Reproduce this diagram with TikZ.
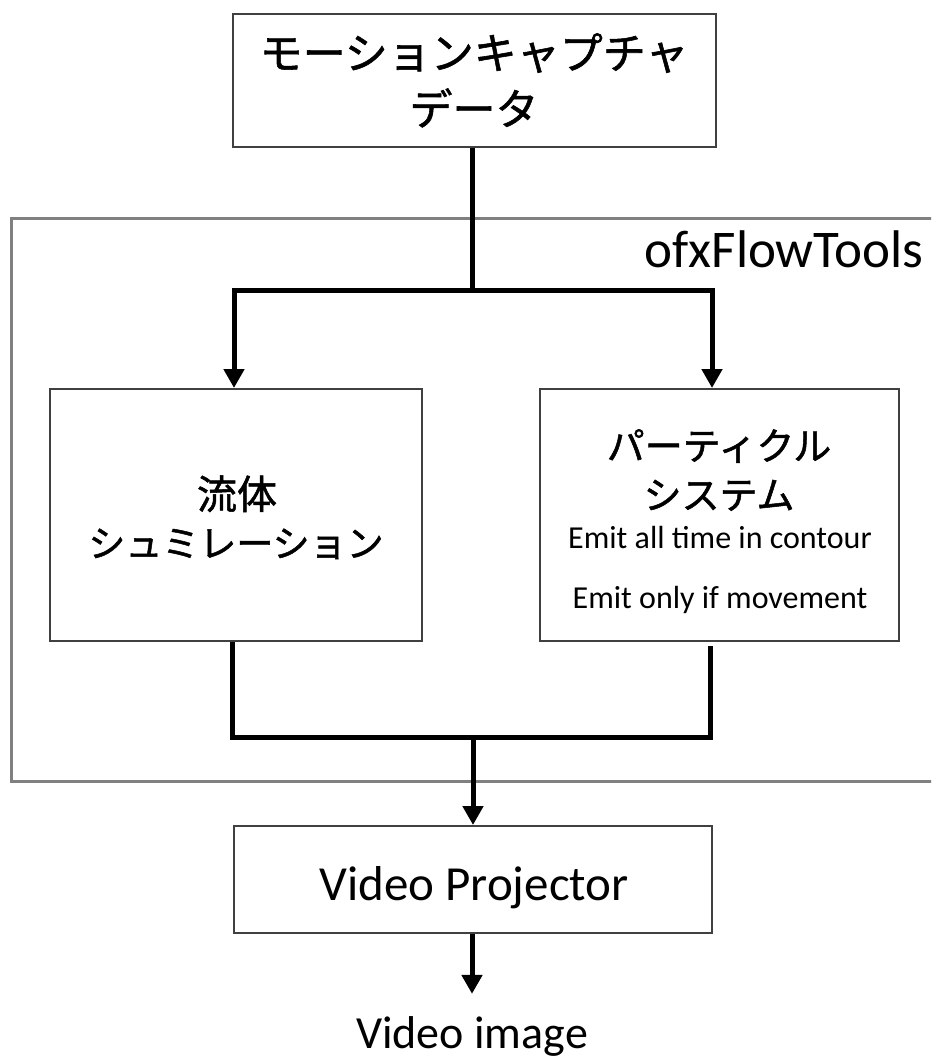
\documentclass[tikz,border=0pt]{standalone}
\usepackage{fontspec}
\setmainfont{Carlito}
\newfontfamily\jp[RawFeature={embolden=1.3}]{Noto Sans CJK JP}
\usetikzlibrary{arrows.meta}
\begin{document}
\begin{tikzpicture}[x=1pt,y=-1pt,
  box/.style={draw=black!75, line width=2pt, fill=white, inner sep=0pt},
  frame/.style={draw=black!50, line width=3pt},
  conn/.style={line width=5pt, black},
  arr/.style={conn, -{Triangle[width=20pt,length=19pt]}},
  txt/.style={inner sep=0pt, anchor=base},
  fs/.style={font=\fontsize{#1}{#1}\selectfont},
  jfs/.style={font=\jp\fontsize{#1}{#1}\selectfont},
  ]
\useasboundingbox (0,0) rectangle (931,1059);
\clip (0,0) rectangle (931,1059);
\fill[white] (0,0) rectangle (931,1059);

% container frame (open on the right: it runs off the picture)
\draw[frame] (950,219) -- (11,219) -- (11,781) -- (950,781);
\node[txt, anchor=base east, fs=53] (lbl) at (924,267) {ofxFlowTools};

% boxes
\node[box, minimum width=483pt, minimum height=133pt] (mocap) at (474.5,80.5) {};
\node[box, minimum width=372pt, minimum height=252pt] (fluid) at (236,515) {};
\node[box, minimum width=359pt, minimum height=252pt] (particle) at (719.5,515) {};
\node[box, minimum width=478pt, minimum height=107pt] (proj) at (473,879.5) {};

% texts
\node[txt, jfs=43] (m1) at (474,69) {モーションキャプチャ};
\node[txt, jfs=43] (m2) at (474,125) {データ};
\node[txt, jfs=40] (f1) at (237,509) {流体};
\node[txt, jfs=37] (f2) at (236,557) {シュミレーション};
\node[txt, jfs=38] (p1) at (719,460) {パーティクル};
\node[txt, jfs=38] (p2) at (719,509) {システム};
\node[txt, fs=32] (e1) at (720,548) {Emit all time in contour};
\node[txt, fs=32] (e2) at (720,608) {Emit only if movement};
\node[txt, fs=49] (pt) at (474,900) {Video Projector};
\node[txt, fs=46] (out) at (472,1048) {Video image};

% split connector
\coordinate (split) at (472,290);
\coordinate (splitL) at (234,290);
\coordinate (splitR) at (712,290);
\draw[conn] (split |- mocap.south) -- (split);
\draw[conn, line cap=rect] (splitL) -- (splitR);
\draw[arr] (splitL) -- (splitL |- fluid.north);
\draw[arr] (splitR) -- (splitR |- particle.north);

% join connector
\coordinate (joinL) at (232,737);
\coordinate (joinR) at (710,737);
\coordinate (join) at (473,737);
\draw[conn, line join=miter] (joinL |- fluid.south) -- (joinL) -- (joinR) -- ([yshift=-4pt]joinR |- particle.south);
\draw[arr] (join) -- (join |- proj.north);
\draw[arr, shorten >=22pt] (out.north |- proj.south) -- (out.north);
\end{tikzpicture}
\end{document}
